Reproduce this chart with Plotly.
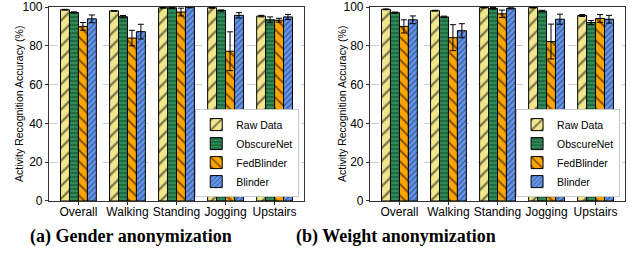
import plotly.graph_objects as go

categories = ["Overall", "Walking", "Standing", "Jogging", "Upstairs"]
methods = ["Raw Data", "ObscureNet", "FedBlinder", "Blinder"]

# (a) Gender anonymization
gender_raw = [98.6, 98.0, 99.6, 99.6, 95.3]
gender_raw_err = [0.2, 0.2, 0.2, 0.2, 0.4]
gender_obs = [97.2, 95.0, 99.6, 98.2, 93.4]
gender_obs_err = [0.3, 0.6, 0.3, 0.3, 1.5]
gender_fed = [90.0, 84.0, 97.4, 77.2, 93.2]
gender_fed_err = [2.0, 4.0, 2.0, 10.0, 1.0]
gender_bli = [93.9, 87.3, 99.9, 95.7, 94.9]
gender_bli_err = [2.0, 3.8, 0.3, 1.4, 1.3]

# (b) Weight anonymization
weight_raw = [98.8, 98.1, 99.7, 99.7, 95.6]
weight_raw_err = [0.2, 0.2, 0.2, 0.2, 0.5]
weight_obs = [97.1, 94.9, 99.3, 97.9, 92.0]
weight_obs_err = [0.3, 0.4, 0.4, 0.4, 1.0]
weight_fed = [90.0, 84.2, 96.5, 82.2, 94.1]
weight_fed_err = [3.4, 6.7, 1.9, 9.0, 2.0]
weight_bli = [93.4, 87.8, 99.3, 93.7, 93.7]
weight_bli_err = [2.0, 3.6, 0.3, 2.6, 2.0]

colors = ["#F0E68C", "#2E8B57", "#FFA500", "#6495ED"]
shapes = ["/", "-", "\\", "/"]
psizes = [9, 4, 8, 4]

fig = go.Figure()

panels = [
    ([gender_raw, gender_obs, gender_fed, gender_bli],
     [gender_raw_err, gender_obs_err, gender_fed_err, gender_bli_err], "x", "y", "legend"),
    ([weight_raw, weight_obs, weight_fed, weight_bli],
     [weight_raw_err, weight_obs_err, weight_fed_err, weight_bli_err], "x2", "y2", "legend2"),
]

for vals, errs, xa, ya, lg in panels:
    for i, m in enumerate(methods):
        fig.add_trace(go.Bar(
            x=categories, y=vals[i], name=m, xaxis=xa, yaxis=ya, legend=lg,
            marker=dict(color=colors[i], line=dict(color="black", width=1),
                        pattern=dict(shape=shapes[i], fgcolor="black", size=psizes[i], solidity=0.25)),
            error_y=dict(type="data", array=errs[i], color="black", thickness=1, width=3),
        ))

axis_common = dict(showline=True, linecolor="#333333", linewidth=1.2, mirror=True,
                   ticks="outside", ticklen=3, tickcolor="#333333", automargin=False,
                   tickfont=dict(family="Liberation Sans, Arial", size=12, color="black"))

ygrid = dict(showgrid=True, gridcolor="#cccccc", griddash="dash", gridwidth=0.8)

legend_common = dict(yanchor="bottom", xanchor="right", bgcolor="white",
                     bordercolor="#c8c8c8", borderwidth=1,
                     font=dict(family="Liberation Sans, Arial", size=10.5, color="black"),
                     tracegroupgap=0, itemwidth=30)

ytitle_text = "Activity Recognition Accuracy (%)"
ytitle_font = dict(family="Liberation Sans, Arial", size=10.5, color="black")
cap_font = dict(family="Liberation Serif, Times New Roman", size=18, color="black")

fig.update_layout(
    width=634, height=254, margin=dict(l=0, r=0, t=0, b=0, autoexpand=False),
    paper_bgcolor="white", plot_bgcolor="white",
    barmode="group", bargap=0.27, bargroupgap=0,
    showlegend=True,
    xaxis=dict(domain=[0.0773, 0.4795], range=[-0.6, 4.6], anchor="y", ticklabelstandoff=-3, **axis_common),
    xaxis2=dict(domain=[0.5836, 0.9858], range=[-0.6, 4.6], anchor="y2", ticklabelstandoff=-3, **axis_common),
    yaxis=dict(domain=[0.2087, 0.9724], range=[0, 100], dtick=20, anchor="x", **ygrid, **axis_common),
    yaxis2=dict(domain=[0.2087, 0.9724], range=[0, 100], dtick=20, anchor="x2", **ygrid, **axis_common),
    legend=dict(x=0.472, y=0.224, **legend_common),
    legend2=dict(x=0.978, y=0.224, **legend_common),
    annotations=[
        dict(text=ytitle_text, x=19 / 634, y=0.5906, xref="paper", yref="paper", textangle=-90,
             xanchor="center", yanchor="middle", showarrow=False, font=ytitle_font),
        dict(text=ytitle_text, x=342 / 634, y=0.5906, xref="paper", yref="paper", textangle=-90,
             xanchor="center", yanchor="middle", showarrow=False, font=ytitle_font),
        dict(text="<b>(a) Gender anonymization</b>", x=0.207, y=0.067, xref="paper", yref="paper",
             xanchor="center", yanchor="middle", showarrow=False, font=cap_font),
        dict(text="<b>(b) Weight anonymization</b>", x=0.625, y=0.067, xref="paper", yref="paper",
             xanchor="center", yanchor="middle", showarrow=False, font=cap_font),
    ],
)

fig.write_html("out.html", config={"displayModeBar": False},
               post_script="document.body.style.margin='0';")
